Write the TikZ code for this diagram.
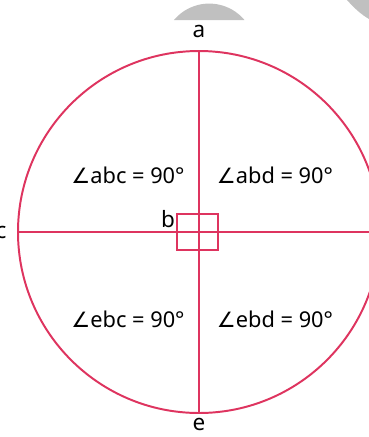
\documentclass[tikz,border=0pt]{standalone}
\usepackage{fontspec}
\setmainfont{Noto Sans}
\newfontfamily\anglefont{DejaVu Sans}
\usetikzlibrary{positioning}

\definecolor{ringred}{RGB}{222,52,95}
\definecolor{smudge}{RGB}{192,192,192}

\newcommand{\ang}{{\anglefont\fontsize{15}{16}\selectfont ∠}}

\begin{document}
\begin{tikzpicture}[
  x=0.025cm, y=-0.025cm,
  ring/.style={draw=ringred, line width=1.4pt},
  pt/.style={font=\fontsize{16}{18}\selectfont, inner sep=1pt},
  angletext/.style={font=\fontsize{15.5}{17}\selectfont, inner sep=0pt}
]
\useasboundingbox (0,0) rectangle (369,437);
\clip (0,0) rectangle (369,437);

% --- grey smudges from the scan ---
\fill[smudge] (174,20) arc[start angle=220, end angle=320, radius=46] -- cycle;
\fill[smudge] (347,0) .. controls (355,9) and (362,15) .. (369,19) -- (369,0) -- cycle;

% --- centre, ends of the two diameters ---
\coordinate (b) at (199,232);
\coordinate (a) at (199,51);
\coordinate (e) at (199,412);
\coordinate (c) at (18,232);
\coordinate (d) at (380,232);

% --- circle and diameters ---
\draw[ring] (b) circle[radius=181];
\draw[ring] (a) -- (e);
\draw[ring] (c) -- (d);
\draw[ring] (177,214) rectangle (218,250);

% --- point labels ---
\node[pt, above=8pt of a] (la) {a};
\node[pt, below=3pt of e] (le) {e};
\node[pt, anchor=east] (lc) at (8,232) {c};
\node[pt] (lb) at (168,219) {b};

% --- the four right angles ---
\node[angletext] (abc) at (128,175) {\ang abc = 90°};
\node[angletext] (abd) at (275,175) {\ang abd = 90°};
\node[angletext] (ebc) at (128,319) {\ang ebc = 90°};
\node[angletext] (ebd) at (275,319) {\ang ebd = 90°};

\end{tikzpicture}
\end{document}
